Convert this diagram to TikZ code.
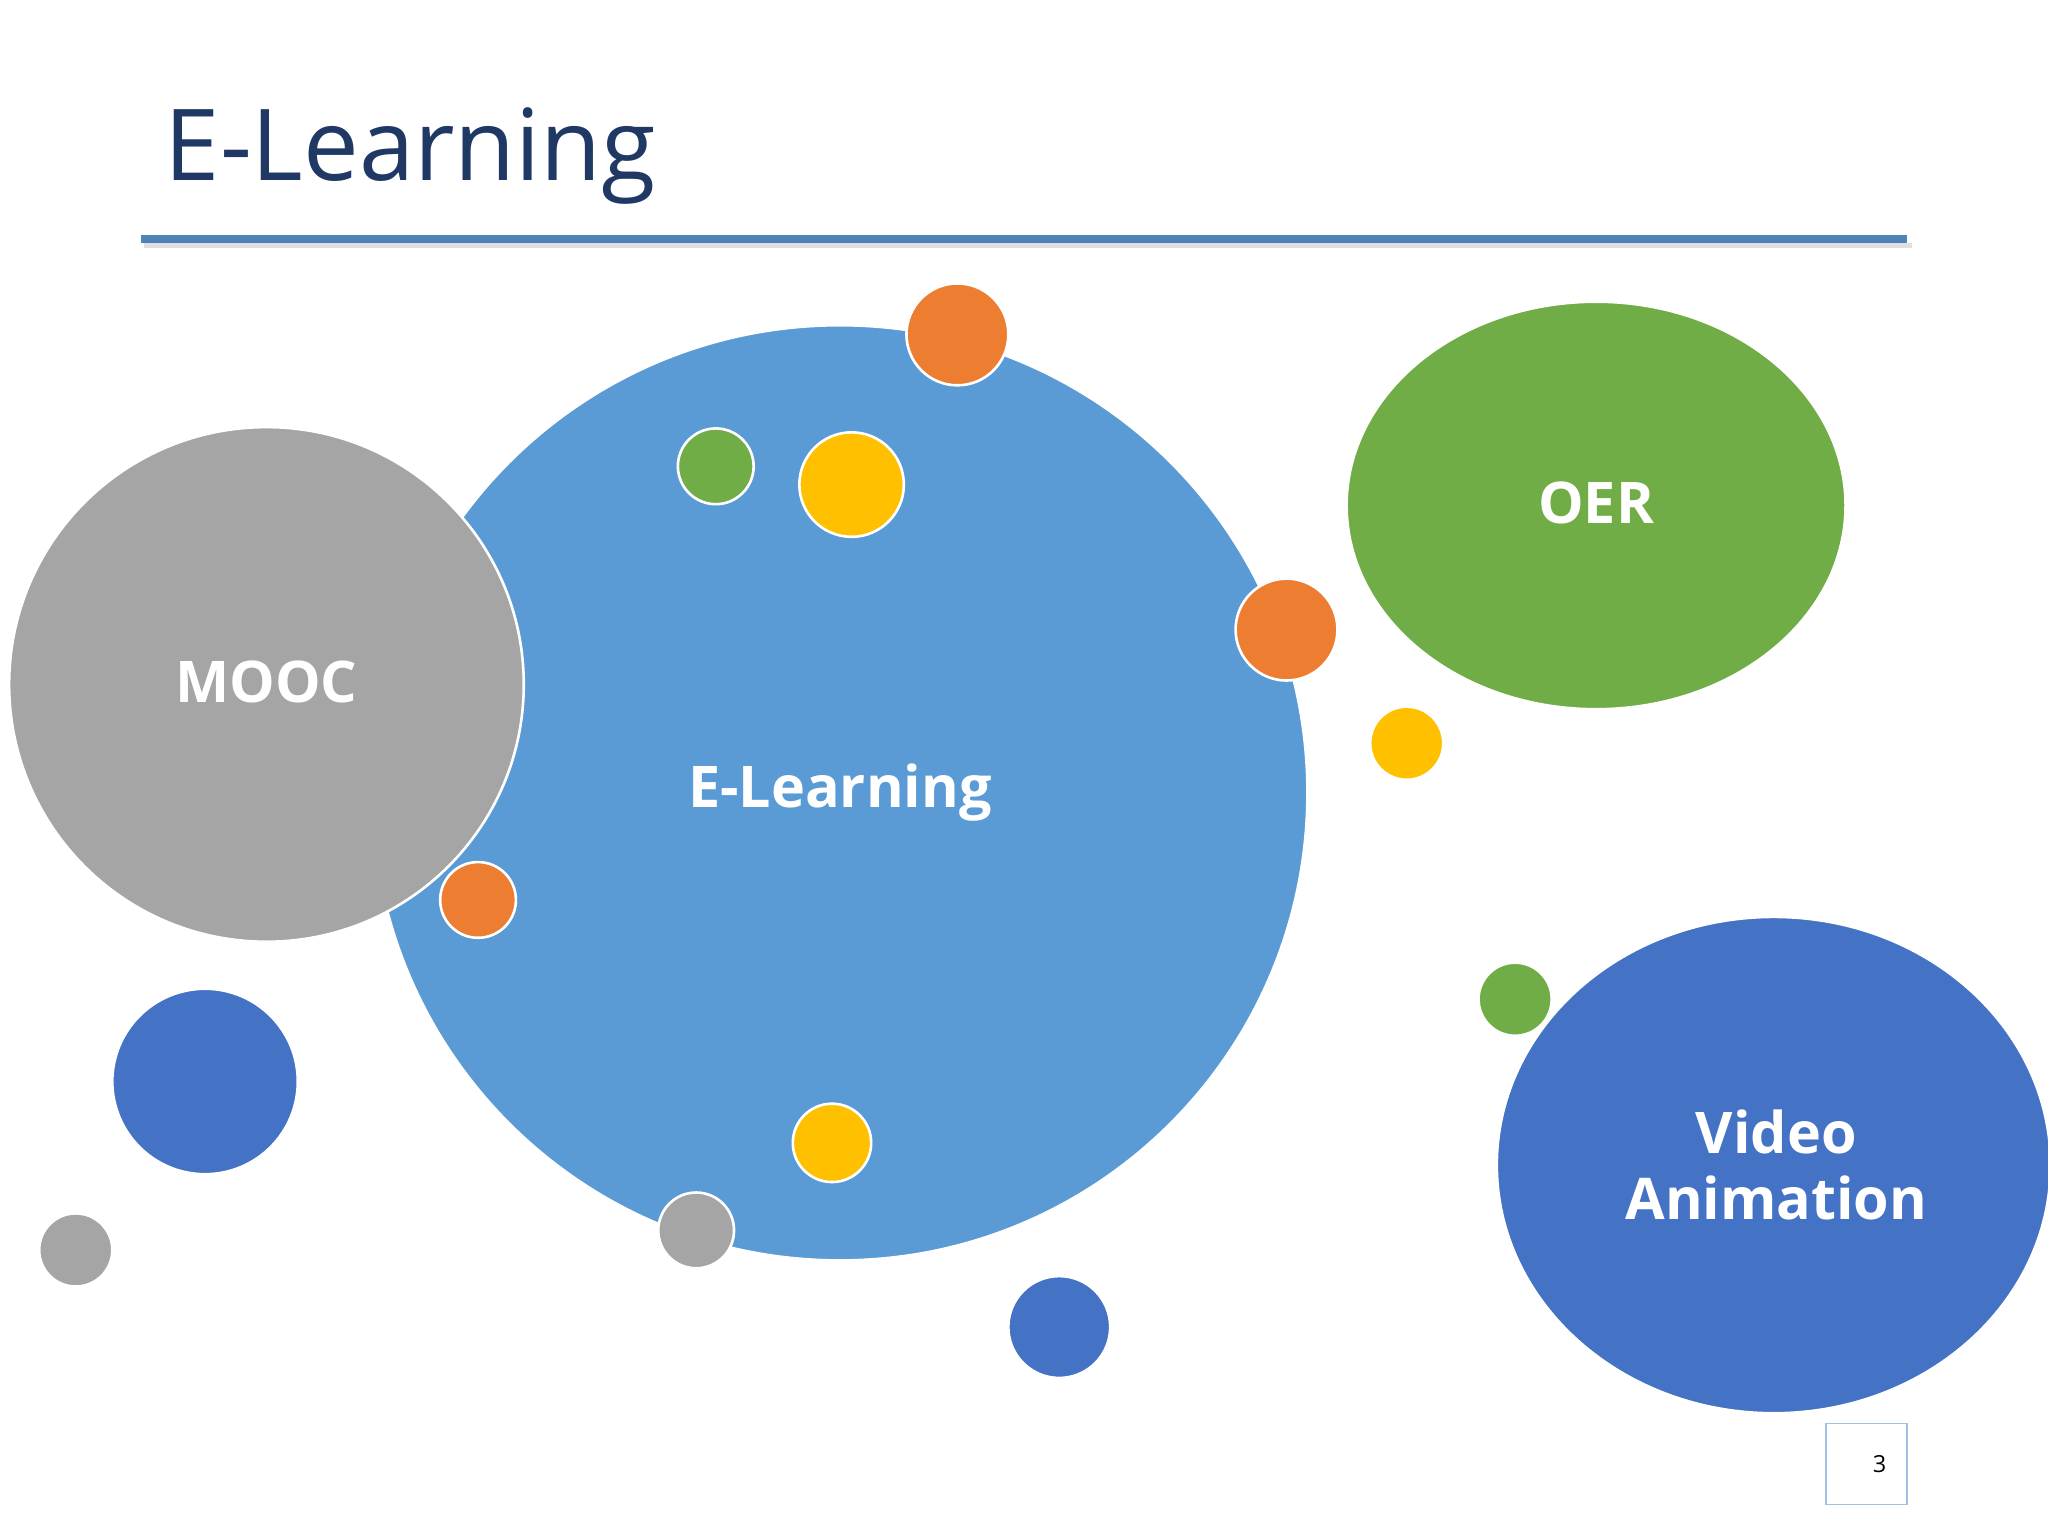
\documentclass[tikz,border=0pt]{standalone}
\usepackage{fontspec}
\setmainfont{Open Sans}
\definecolor{cblue}{HTML}{5B9BD5}
\definecolor{cdblue}{HTML}{4472C4}
\definecolor{cgray}{HTML}{A5A5A5}
\definecolor{cgreen}{HTML}{70AD47}
\definecolor{corange}{HTML}{ED7D31}
\definecolor{cyellow}{HTML}{FFC000}
\definecolor{navy}{HTML}{1F3864}
\begin{document}
\begin{tikzpicture}[x=1pt,y=-1pt,
  blob/.style={draw=white,line width=2pt},
  lab/.style={text=white,font=\fontsize{44}{50}\selectfont\bfseries,align=center}]
\useasboundingbox[fill=white] (0,0) rectangle (1568,1176);
\clip (0,0) rectangle (1568,1176);
\node[anchor=base west,text=navy,font=\fontsize{76}{80}\selectfont,inner sep=0] (title) at (126,138) {E-Learning};
\fill[gray!25] (110,186) rectangle (1464,190);
\fill[cblue!85!black] (108,180) rectangle (1460,186);
\filldraw[blob,fill=cblue] (643,607) circle (358);
\node[lab] (el) at (643,607) {E-Learning};
\filldraw[blob,fill=cgray] (204,524) circle (197);
\node[lab] (mooc) at (204,522) {MOOC};
\filldraw[blob,fill=cgreen] (1222,387) ellipse (191 and 156);
\node[lab] (oer) at (1222,385) {OER};
\filldraw[blob,fill=cdblue] (1358,892) ellipse (212 and 190);
\node[lab] (va) at (1360,892) {Video\\Animation};
\foreach \x/\y/\r/\c in {733/256/39/corange,985/482/39/corange,548/357/29/cgreen,652/371/40/cyellow,366/689/29/corange,637/875/30/cyellow,533/942/29/cgray,1077/569/28/cyellow,1160/765/28/cgreen,157/828/71/cdblue,58/957/28/cgray,811/1016/39/cdblue}
  \filldraw[blob,fill=\c] (\x,\y) circle (\r);
\draw[cblue!60,line width=1pt] (1398,1090) rectangle (1460,1152);
\node[font=\fontsize{18}{20}\selectfont] (pg) at (1439,1121) {3};
\end{tikzpicture}
\end{document}
